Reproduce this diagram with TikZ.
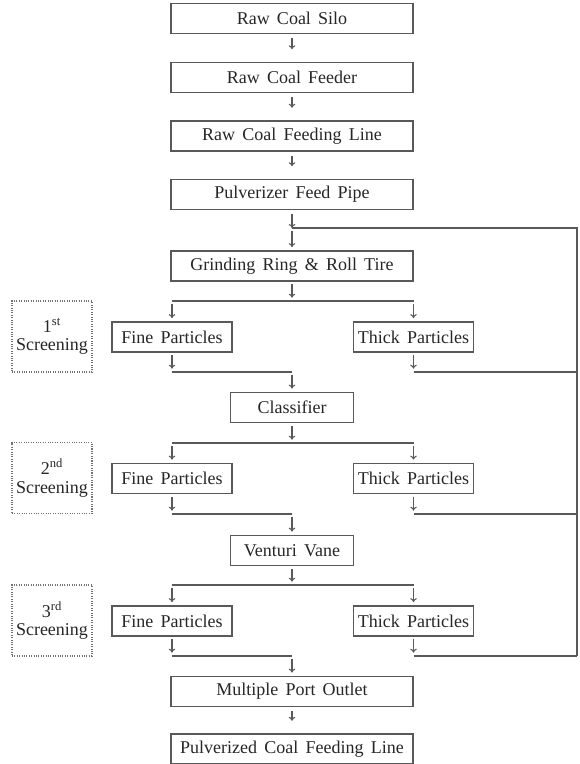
\documentclass[tikz,border=0pt]{standalone}
\usepackage{fontspec}
\setmainfont{Liberation Serif}[WordSpace=1.6]
\usetikzlibrary{arrows.meta}

\tikzset{
  caja/.style={rectangle, draw=black!65, line width=0.8pt, minimum height=22.5pt, inner sep=1pt, text=black!85, font=\fontsize{13.5}{15}\selectfont},
  ancha/.style={caja, minimum width=181.5pt},
  media/.style={caja, minimum width=92.25pt},
  chica/.style={caja, minimum width=90pt},
  etapa/.style={rectangle, draw=black!55, densely dotted, line width=0.8pt, minimum width=60pt, minimum height=53.25pt, inner sep=0pt, align=center, text=black!85, font=\fontsize{13.5}{14}\selectfont},
  linea/.style={draw=black!65, line width=0.8pt},
  flecha/.style={linea, -{To[length=3pt,width=5pt]}},
  largo/.style={shorten <=3pt, shorten >=9.5pt},
  corto/.style={shorten <=2pt, shorten >=2.5pt}
}

\begin{document}
\begin{tikzpicture}[x=0.75pt,y=-0.75pt]
\useasboundingbox (0,0) rectangle (579,764);
% columna principal
\draw (292,18.5) node[ancha] (silo) {Raw Coal Silo};
\draw (292,77.5) node[ancha] (alimentador) {Raw Coal Feeder};
\draw (292,136) node[ancha] (lineacarbon) {Raw Coal Feeding Line};
\draw (292,194.5) node[ancha] (tubo) {Pulverizer Feed Pipe};
\draw (292,266) node[ancha] (molino) {Grinding Ring \& Roll Tire};
\draw (292,407.5) node[media] (clasif) {Classifier};
\draw (292,550.5) node[media] (venturi) {Venturi Vane};
\draw (292,691.5) node[ancha] (salida) {Multiple Port Outlet};
\draw (292,749) node[ancha] (final) {Pulverized Coal Feeding Line};
% particulas
\draw (172,337) node[chica] (fina1) {Fine Particles};
\draw (413.5,337) node[chica] (gruesa1) {Thick Particles};
\draw (172,478.5) node[chica] (fina2) {Fine Particles};
\draw (413.5,478.5) node[chica] (gruesa2) {Thick Particles};
\draw (172,621) node[chica] (fina3) {Fine Particles};
\draw (413.5,621) node[chica] (gruesa3) {Thick Particles};
% etapas
\draw (52,336.5) node[etapa] (etapa1) {1\textsuperscript{st}\\Screening};
\draw (52,478) node[etapa] (etapa2) {2\textsuperscript{nd}\\Screening};
\draw (52,620.5) node[etapa] (etapa3) {3\textsuperscript{rd}\\Screening};
% puntos de union
\coordinate (ret) at (292,228);
\coordinate (retR) at (577,228);
\coordinate (div1) at (292,301);
\coordinate (div1L) at (172,301);
\coordinate (div1R) at (413.5,301);
\coordinate (une1) at (292,372);
\coordinate (une1L) at (172,372);
\coordinate (une1R) at (413.5,372);
\coordinate (ret1) at (577,372);
\coordinate (div2) at (292,443);
\coordinate (div2L) at (172,443);
\coordinate (div2R) at (413.5,443);
\coordinate (une2) at (292,514);
\coordinate (une2L) at (172,514);
\coordinate (une2R) at (413.5,514);
\coordinate (ret2) at (577,514);
\coordinate (div3) at (292,585);
\coordinate (div3L) at (172,585);
\coordinate (div3R) at (413.5,585);
\coordinate (une3) at (292,656);
\coordinate (une3L) at (172,656);
\coordinate (une3R) at (413.5,656);
\coordinate (ret3) at (577,656);
% flechas
\draw[flecha,largo] (silo) -- (alimentador);
\draw[flecha,largo] (alimentador) -- (lineacarbon);
\draw[flecha,largo] (lineacarbon) -- (tubo);
\draw[flecha,shorten <=3pt] (tubo) -- (ret);
\draw[flecha,corto] (ret) -- (molino);
\draw[flecha,corto] (molino) -- (div1);
\draw[flecha,corto] (div1L) -- (fina1);
\draw[flecha,corto] (div1R) -- (gruesa1);
\draw[flecha,corto] (fina1) -- (une1L);
\draw[flecha,corto] (gruesa1) -- (une1R);
\draw[flecha,corto] (une1) -- (clasif);
\draw[flecha,corto] (clasif) -- (div2);
\draw[flecha,corto] (div2L) -- (fina2);
\draw[flecha,corto] (div2R) -- (gruesa2);
\draw[flecha,corto] (fina2) -- (une2L);
\draw[flecha,corto] (gruesa2) -- (une2R);
\draw[flecha,corto] (une2) -- (venturi);
\draw[flecha,corto] (venturi) -- (div3);
\draw[flecha,corto] (div3L) -- (fina3);
\draw[flecha,corto] (div3R) -- (gruesa3);
\draw[flecha,corto] (fina3) -- (une3L);
\draw[flecha,corto] (gruesa3) -- (une3R);
\draw[flecha,corto] (une3) -- (salida);
\draw[flecha,largo] (salida) -- (final);
% lineas
\draw[linea] (ret) -- (retR) -- (ret3);
\draw[linea] (div1L) -- (div1R);
\draw[linea] (une1L) -- (une1);
\draw[linea] (une1R) -- (ret1);
\draw[linea] (div2L) -- (div2R);
\draw[linea] (une2L) -- (une2);
\draw[linea] (une2R) -- (ret2);
\draw[linea] (div3L) -- (div3R);
\draw[linea] (une3L) -- (une3);
\draw[linea] (une3R) -- (ret3);
\end{tikzpicture}
\end{document}
